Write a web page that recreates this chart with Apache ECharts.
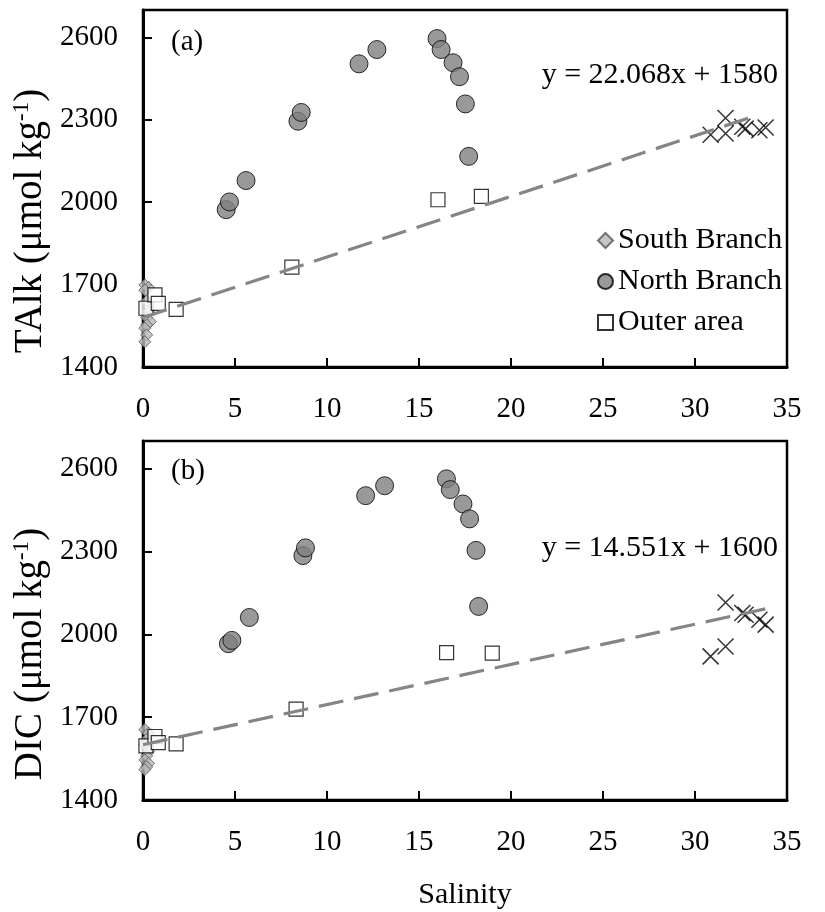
<!DOCTYPE html>
<html>
<head>
<meta charset="utf-8">
<script src="https://cdn.jsdelivr.net/npm/echarts@6/dist/echarts.min.js"></script>
<style>html,body{margin:0;padding:0;background:#fff}#c{width:825px;height:912px}</style>
</head>
<body>
<div id="c"></div>
<script>
// ---------- data ----------
var xTicks = [0, 5, 10, 15, 20, 25, 30, 35];
var yTicks = [1400, 1700, 2000, 2300, 2600];

// Panel (a) TAlk
var southA_x = [0.1, 0.3, 0.1, 0.2, 0.3, 0.2, 0.4, 0.2, 0.1, 0.2, 0.1];
var southA_y = [1699, 1690, 1680, 1640, 1600, 1580, 1565, 1553, 1541, 1517, 1492];
var northA_x = [4.52, 4.70, 5.60, 8.42, 8.60, 11.74, 12.71, 15.98, 16.2, 16.85, 17.2, 17.52, 17.7];
var northA_y = [1973, 2001, 2079, 2295, 2327, 2504, 2556, 2596, 2556, 2508, 2457, 2358, 2167];
var outerA_x = [0.16, 0.65, 0.83, 1.8, 8.09, 16.03, 18.39];
var outerA_y = [1614, 1663, 1632, 1610, 1764, 2009, 2021];
var crossA_x = [30.85, 31.66, 31.66, 32.57, 32.75, 33.5, 33.84];
var crossA_y = [2246, 2307, 2250, 2275, 2268, 2262, 2272];
var fitA = {slope: 22.068, intercept: 1580, xFrom: 0, xTo: 33.4, label: 'y = 22.068x + 1580'};

// Panel (b) DIC
var southB_x = [0.1, 0.3, 0.2, 0.1, 0.3, 0.2, 0.1, 0.3, 0.2, 0.1];
var southB_y = [1655, 1642, 1620, 1600, 1575, 1560, 1545, 1533, 1520, 1510];
var northB_x = [4.64, 4.83, 5.78, 8.69, 8.83, 12.1, 13.13, 16.49, 16.7, 17.39, 17.75, 18.1, 18.24];
var northB_y = [1966, 1978, 2061, 2285, 2313, 2502, 2538, 2563, 2524, 2472, 2418, 2304, 2101];
var outerB_x = [0.16, 0.65, 0.83, 1.8, 8.32, 16.5, 18.98];
var outerB_y = [1596, 1630, 1608, 1603, 1729, 1934, 1932];
var crossB_x = [30.85, 31.66, 31.66, 32.57, 32.75, 33.5, 33.84];
var crossB_y = [1920, 2115, 1956, 2077, 2071, 2053, 2035];
var fitB = {slope: 14.551, intercept: 1600, xFrom: 0, xTo: 34.3, label: 'y = 14.551x + 1600'};

var legendNames = ['South Branch', 'North Branch', 'Outer area'];
var xTitle = 'Salinity';
// ---------------------------------------------------

var FONT = '"Liberation Serif", "Times New Roman", serif';
function pairs(xs, ys) { return xs.map(function (x, i) { return [x, ys[i]]; }); }
function fitLine(f) { return [[f.xFrom, f.slope * f.xFrom + f.intercept], [f.xTo, f.slope * f.xTo + f.intercept]]; }

var crossPath = 'path://M0,0L10,10M10,0L0,10';

function axesFor(idx) {
  var x = {
    gridIndex: idx, type: 'value', min: xTicks[0], max: xTicks[xTicks.length - 1], interval: xTicks[1] - xTicks[0],
    axisLine: {show: true, onZero: false, lineStyle: {color: '#000', width: 3}},
    axisTick: {show: true, inside: true, length: 9, lineStyle: {color: '#000', width: 2}},
    axisLabel: {margin: 28, fontSize: 29, color: '#000', fontFamily: FONT},
    splitLine: {show: false}
  };
  var y = {
    gridIndex: idx, type: 'value', min: yTicks[0], max: 2700, interval: yTicks[1] - yTicks[0],
    axisLine: {show: true, onZero: false, lineStyle: {color: '#000', width: 3}},
    axisTick: {show: true, inside: true, length: 9, lineStyle: {color: '#000', width: 2}},
    axisLabel: {margin: 25, fontSize: 29, color: '#000', fontFamily: FONT, showMaxLabel: false,
      formatter: function (v) { return yTicks.indexOf(v) >= 0 ? String(v) : ''; }},
    splitLine: {show: false}
  };
  return {x: x, y: y};
}
var a0 = axesFor(0), a1 = axesFor(1);

var southStyle = {color: '#b8b8b8', borderColor: '#555', borderWidth: 1};
var northStyle = {color: '#808080', borderColor: '#000', borderWidth: 1};
var outerStyle = {color: '#fff', borderColor: '#000', borderWidth: 1.2};
var crossStyle = {color: 'none', borderColor: '#000', borderWidth: 1.5};

function seriesFor(idx, sx, sy, nx, ny, ox, oy, cx, cy, fit) {
  return [
    {name: legendNames[0], type: 'scatter', xAxisIndex: idx, yAxisIndex: idx, symbol: 'diamond', symbolSize: 12,
      itemStyle: southStyle, data: pairs(sx, sy), z: 2},
    {name: legendNames[1], type: 'scatter', xAxisIndex: idx, yAxisIndex: idx, symbol: 'circle', symbolSize: 18,
      itemStyle: northStyle, data: pairs(nx, ny), z: 3},
    {name: legendNames[2], type: 'scatter', xAxisIndex: idx, yAxisIndex: idx, symbol: 'rect', symbolSize: 14,
      itemStyle: outerStyle, data: pairs(ox, oy), z: 4},
    {name: 'cross', type: 'scatter', xAxisIndex: idx, yAxisIndex: idx, symbol: crossPath, symbolSize: 16,
      itemStyle: crossStyle, data: pairs(cx, cy), z: 5},
    {name: 'fit', type: 'line', xAxisIndex: idx, yAxisIndex: idx, showSymbol: false, silent: true,
      lineStyle: {color: '#858585', width: 3.2, type: [25, 11]}, data: fitLine(fit), z: 6, animation: false}
  ];
}

function yTitle(text, cx, cy) {
  return {
    type: 'text', x: cx, y: cy, rotation: Math.PI / 2,
    style: {
      text: '{m|' + text + ' (μmol kg}{s|-1}{m|)}',
      align: 'center', verticalAlign: 'middle',
      rich: {
        m: {fontSize: 39, fontFamily: FONT, fill: '#000', lineHeight: 42},
        s: {fontSize: 23, fontFamily: FONT, fill: '#000', verticalAlign: 'top', lineHeight: 23}
      }
    }
  };
}
function txt(text, x, y, size, align) {
  return {type: 'text', x: x, y: y, style: {text: text, fontSize: size, fontFamily: FONT, fill: '#000',
    align: align || 'left', verticalAlign: 'middle'}};
}

var chart = echarts.init(document.getElementById('c'), null, {renderer: 'canvas'});
chart.setOption({
  animation: false,
  backgroundColor: '#fff',
  grid: [
    {left: 143, top: 10, width: 644, height: 357, show: true, borderColor: '#000', borderWidth: 2.5, backgroundColor: 'transparent'},
    {left: 143, top: 441, width: 644, height: 359, show: true, borderColor: '#000', borderWidth: 2.5, backgroundColor: 'transparent'}
  ],
  xAxis: [a0.x, a1.x],
  yAxis: [a0.y, a1.y],
  legend: {
    data: legendNames, orient: 'vertical', left: 592, top: 220, itemWidth: 15, itemHeight: 15, itemGap: 10,
    textStyle: {fontSize: 30, fontFamily: FONT, color: '#000', lineHeight: 31}, selectedMode: false
  },
  series: [].concat(
    seriesFor(0, southA_x, southA_y, northA_x, northA_y, outerA_x, outerA_y, crossA_x, crossA_y, fitA),
    seriesFor(1, southB_x, southB_y, northB_x, northB_y, outerB_x, outerB_y, crossB_x, crossB_y, fitB)
  ),
  graphic: [
    txt('(a)', 171, 42, 29),
    txt('(b)', 171, 471, 29),
    txt(fitA.label, 778, 75, 30, 'right'),
    txt(fitB.label, 778, 548, 30, 'right'),
    txt(xTitle, 465, 895, 30, 'center'),
    yTitle('TAlk', 31, 221),
    yTitle('DIC', 31, 654)
  ]
});
</script>
</body>
</html>
